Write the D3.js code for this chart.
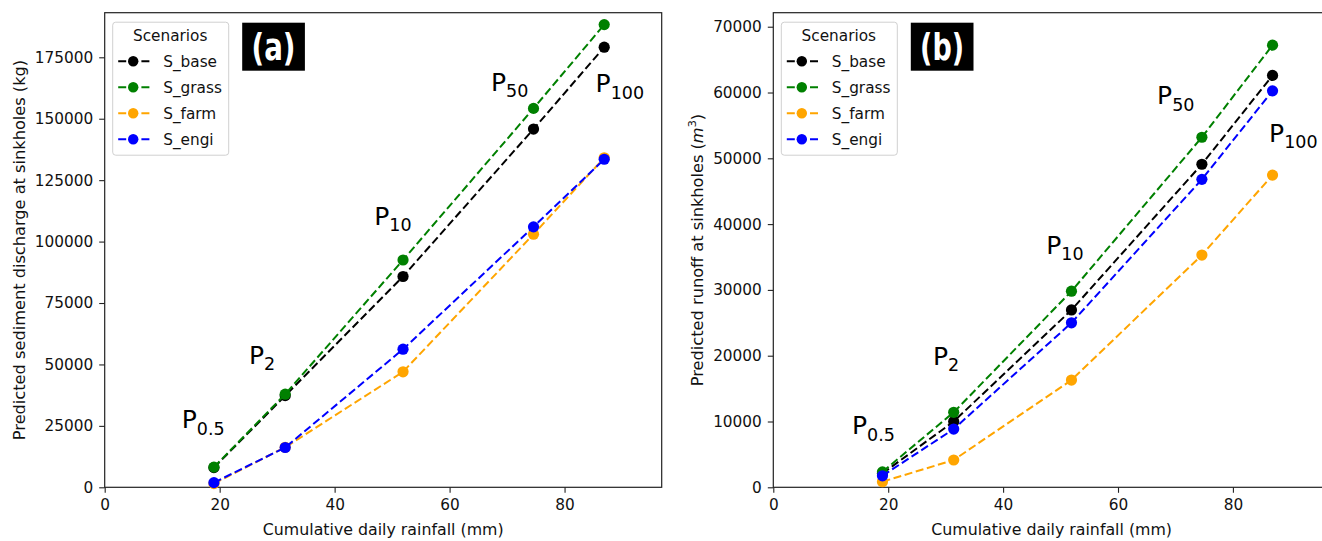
<!DOCTYPE html>
<html><head><meta charset="utf-8">
<script src="https://cdnjs.cloudflare.com/ajax/libs/d3/7.8.5/d3.min.js"></script>
<style>body{margin:0;background:#fff}svg{display:block}text{font-family:"DejaVu Sans",sans-serif}</style>
</head><body><svg id="c" width="1322" height="541"></svg>
<script>
// ---- data ----
const rainfall = [19.0, 31.4, 51.9, 74.6, 86.9];
const scenarios = ["S_base", "S_grass", "S_farm", "S_engi"];
const sedBase  = [8000, 37300, 85800, 145800, 179100];
const sedGrass = [8200, 37900, 92500, 154200, 188300];
const sedFarm  = [1500, 16300, 47000, 103000, 134100];
const sedEngi  = [1900, 16200, 56200, 106000, 133500];
const runBase  = [2100, 10000, 26950, 49100, 62600];
const runGrass = [2350, 11400, 29800, 53200, 67200];
const runFarm  = [850, 4150, 16300, 35300, 47450];
const runEngi  = [1750, 8850, 25000, 46800, 60250];
const periodLabels = ["0.5", "2", "10", "50", "100"];
const labelPosA = [[13.4, 24000], [25.1, 50200], [46.9, 106750], [67.2, 161400], [85.4, 160750]];
const labelPosB = [[13.7, 8100], [27.8, 18590], [47.5, 35460], [66.8, 58250], [86.3, 52520]];
const xTicks = [0, 20, 40, 60, 80];
const yTicksA = [0, 25000, 50000, 75000, 100000, 125000, 150000, 175000];
const yTicksB = [0, 10000, 20000, 30000, 40000, 50000, 60000, 70000];
const colors = ["#000000", "#008000", "#FFA500", "#0000FF"];

const svg = d3.select("#c");

function panel(o) {
  const x = d3.scaleLinear().domain([0, o.xmax]).range([o.left, o.right]);
  const y = d3.scaleLinear().domain([0, o.ymax]).range([o.bottom, o.top]);
  const g = svg.append("g");
  const FS = 15.3;
  // axes
  const xa = g.append("g").attr("transform", `translate(0,${o.bottom})`)
    .call(d3.axisBottom(x).tickValues(xTicks).tickSize(5.5).tickPadding(6).tickFormat(d3.format("d")));
  const ya = g.append("g").attr("transform", `translate(${o.left},0)`)
    .call(d3.axisLeft(y).tickValues(o.yticks).tickSize(5.5).tickPadding(6).tickFormat(d3.format("d")));
  [xa, ya].forEach(a => {
    a.select(".domain").remove();
    a.selectAll("line").attr("stroke", "#222").attr("stroke-width", 1.1);
    a.selectAll("text").attr("font-size", FS).attr("fill", "#111").attr("font-family", "DejaVu Sans");
  });
  // frame
  g.append("rect").attr("x", o.left).attr("y", o.top).attr("width", o.right - o.left).attr("height", o.bottom - o.top)
    .attr("fill", "none").attr("stroke", "#222").attr("stroke-width", 1.2);
  // labels
  g.append("text").attr("x", (o.left + o.right) / 2).attr("y", 534.5).attr("text-anchor", "middle")
    .attr("font-size", 15.8).attr("fill", "#111").text("Cumulative daily rainfall (mm)");
  const yl = g.append("text").attr("transform", `translate(${o.ylx},${(o.top + o.bottom) / 2}) rotate(-90)`)
    .attr("text-anchor", "middle").attr("font-size", 16.2).attr("fill", "#111");
  o.ylabel(yl);
  // series
  const line = d3.line().x((d, i) => x(rainfall[i])).y(d => y(d));
  o.series.forEach((s, k) => {
    g.append("path").datum(s).attr("d", line).attr("fill", "none").attr("stroke", colors[k])
      .attr("stroke-width", 2).attr("stroke-dasharray", "8,3.6");
    g.selectAll(null).data(s).enter().append("circle")
      .attr("cx", (d, i) => x(rainfall[i])).attr("cy", d => y(d)).attr("r", 5.6).attr("fill", colors[k]);
  });
  // period labels
  o.labelPos.forEach((p, i) => {
    const t = g.append("text").attr("x", x(p[0])).attr("y", y(p[1])).attr("font-size", 25).attr("fill", "#000");
    t.append("tspan").text("P");
    t.append("tspan").attr("font-size", 17.5).attr("dy", 6.5).text(periodLabels[i]);
  });
  // legend
  const lx = o.left + 8, ly = o.top + 9.5, lw = 116, lh = 133;
  const lg = g.append("g");
  lg.append("rect").attr("x", lx).attr("y", ly).attr("width", lw).attr("height", lh).attr("rx", 3)
    .attr("fill", "#fff").attr("fill-opacity", 0.85).attr("stroke", "#d0d0d0").attr("stroke-width", 1);
  lg.append("text").attr("x", lx + lw / 2 - 0.5).attr("y", ly + 19).attr("text-anchor", "middle")
    .attr("font-size", FS).attr("fill", "#111").text("Scenarios");
  scenarios.forEach((s, k) => {
    const ry = ly + 39 + k * 26;
    lg.append("line").attr("x1", lx + 5.5).attr("x2", lx + 37.5).attr("y1", ry).attr("y2", ry)
      .attr("stroke", colors[k]).attr("stroke-width", 2).attr("stroke-dasharray", "8,3.6");
    lg.append("circle").attr("cx", lx + 20.5).attr("cy", ry).attr("r", 5.2).attr("fill", colors[k]);
    lg.append("text").attr("x", lx + 50.5).attr("y", ry + 5.5).attr("font-size", FS).attr("fill", "#111").text(s);
  });
  // badge
  g.append("rect").attr("x", o.left + 137.5).attr("y", 22.7).attr("width", 62.7).attr("height", 48).attr("fill", "#000");
  g.append("text").attr("x", o.left + 137.5 + 31.3).attr("y", 60).attr("text-anchor", "middle")
    .attr("font-size", 38).attr("font-weight", "bold").attr("fill", "#fff")
    .attr("textLength", 44).attr("lengthAdjust", "spacingAndGlyphs").text(o.badge);
}

panel({
  left: 104.7, right: 661.7, top: 12.7, bottom: 487.3, xmax: 96.9, ymax: 193150,
  yticks: yTicksA, ylx: 24.5, badge: "(a)", labelPos: labelPosA,
  series: [sedBase, sedGrass, sedFarm, sedEngi],
  ylabel: t => t.text("Predicted sediment discharge at sinkholes (kg)")
});
panel({
  left: 773.3, right: 1330, top: 12.7, bottom: 487.3, xmax: 96.9, ymax: 72130,
  yticks: yTicksB, ylx: 703, badge: "(b)", labelPos: labelPosB,
  series: [runBase, runGrass, runFarm, runEngi],
  ylabel: t => {
    t.append("tspan").text("Predicted runoff at sinkholes (");
    t.append("tspan").attr("font-style", "italic").text("m");
    t.append("tspan").attr("font-size", 11.3).attr("dy", -7).text("3");
    t.append("tspan").attr("dy", 7).text(")");
  }
});
</script></body></html>
